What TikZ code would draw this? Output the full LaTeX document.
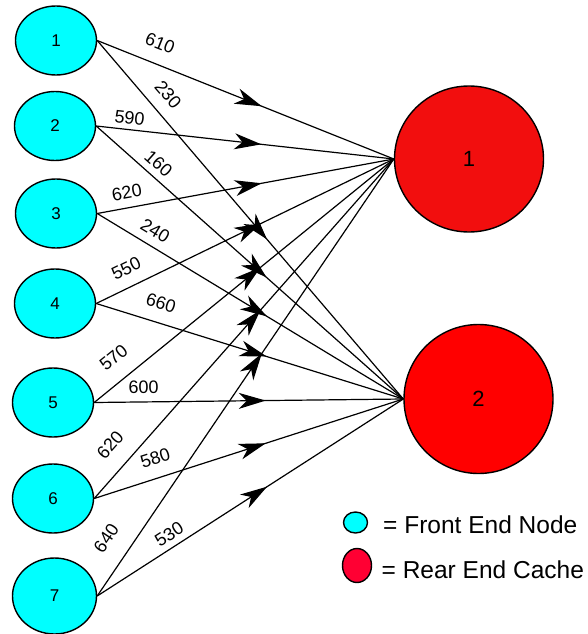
\documentclass[tikz,border=0pt]{standalone}
\usepackage{fontspec}
\setmainfont{Liberation Sans}
\usetikzlibrary{shapes.geometric, arrows.meta, decorations.markings}

\definecolor{frontcyan}{RGB}{0,255,255}
\definecolor{rearredA}{RGB}{242,14,14}
\definecolor{rearredB}{RGB}{255,0,0}
\definecolor{keyred}{RGB}{255,0,51}

\begin{document}
\begin{tikzpicture}[x=1pt, y=-1pt,
  front/.style={ellipse, draw, line width=1.4pt, fill=frontcyan,
    minimum width=81pt, minimum height=69pt, inner sep=0pt,
    font=\fontsize{17}{20}\selectfont},
  rear/.style={ellipse, draw, line width=1.4pt,
    minimum width=149pt, minimum height=146pt, inner sep=0pt,
    font=\fontsize{22}{26}\selectfont},
  link/.style={line width=1.2pt, postaction={decorate},
    decoration={markings, mark=at position 0.555 with
      {\arrow{Stealth[length=27pt, width=16pt, inset=8pt]}}}},
  lbl/.style={sloped, anchor=center, inner sep=0pt,
    font=\fontsize{18}{20}\selectfont},
  keytext/.style={anchor=base west, inner sep=0pt,
    font=\fontsize{24.5}{28}\selectfont}]

\useasboundingbox (0,0) rectangle (587,634);

% front end nodes
\node[front] (f1) at (56,40.5) {1};
\node[front] (f2) at (55,126) {2};
\node[front] (f3) at (56,213.5) {3};
\node[front] (f4) at (55,303.5) {4};
\node[front] (f5) at (53,402.5) {5};
\node[front] (f6) at (53,498.5) {6};
\node[front, minimum width=84pt, minimum height=76pt] (f7) at (54.5,596) {7};

% rear end caches
\node[rear, fill=rearredA] (r1) at (469,159) {1};
\node[rear, fill=rearredB, minimum height=149pt] (r2) at (478.5,399) {2};

% connections with their weights (yshift = distance of the label above its line)
\draw[link] (f1.east) -- node[lbl, pos=0.186, yshift=20.8pt] {610} (r1.west);
\draw[link] (f1.east) -- node[lbl, pos=0.185, yshift=18.6pt] {230} (r2.west);
\draw[link] (f2.east) -- node[lbl, pos=0.108, yshift=11.9pt] {590} (r1.west);
\draw[link] (f2.east) -- node[lbl, pos=0.174, yshift=13.4pt] {160} (r2.west);
\draw[link] (f3.east) -- node[lbl, pos=0.109, yshift=15.2pt] {620} (r1.west);
\draw[link] (f3.east) -- node[lbl, pos=0.164, yshift=15.1pt] {240} (r2.west);
\draw[link] (f4.east) -- node[lbl, pos=0.128, yshift=18.6pt] {550} (r1.west);
\draw[link] (f4.east) -- node[lbl, pos=0.192, yshift=19.7pt] {660} (r2.west);
\draw[link] (f5.east) -- node[lbl, pos=0.112, yshift=22.6pt] {570} (r1.west);
\draw[link] (f5.east) -- node[lbl, pos=0.160, yshift=15.0pt] {600} (r2.west);
\draw[link] (f6.east) -- node[lbl, pos=0.112, yshift=23.5pt] {620} (r1.west);
\draw[link] (f6.east) -- node[lbl, pos=0.217, yshift=19.7pt] {580} (r2.west);
\draw[link] (f7.east) -- node[lbl, pos=0.100, yshift=24.9pt] {640} (r1.west);
\draw[link] (f7.east) -- node[lbl, pos=0.258, yshift=13.0pt] {530} (r2.west);

% key
\node[ellipse, draw, line width=1.4pt, fill=frontcyan, minimum width=24pt,
  minimum height=21pt, inner sep=0pt] (kf) at (355.5,522.5) {};
\node[ellipse, draw, line width=1.4pt, fill=keyred, minimum width=29pt,
  minimum height=34pt, inner sep=0pt] (kr) at (357,565.5) {};
\node[keytext] (kft) at (383,533) {= Front End Node};
\node[keytext] (krt) at (381.5,578) {= Rear End Cache};
\end{tikzpicture}
\end{document}
